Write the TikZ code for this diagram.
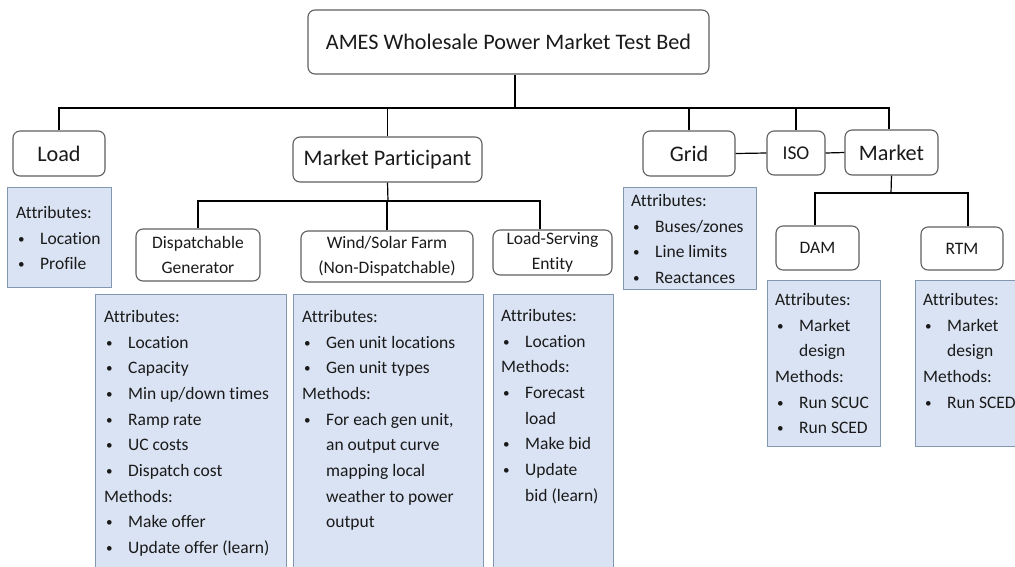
\documentclass[tikz,border=0pt]{standalone}
\usepackage{fontspec}
\setmainfont{Carlito}[Ligatures=NoCommon]
\usepackage{tikz}
\usetikzlibrary{calc}
\definecolor{attrfill}{RGB}{218,227,243}
\definecolor{attrline}{RGB}{132,151,176}
\definecolor{unitline}{RGB}{95,95,95}
\definecolor{ink}{RGB}{26,26,26}
\newcommand{\bitem}{\hspace*{2pt}\makebox[22pt][l]{\raisebox{1pt}{\scalebox{0.75}{\textbullet}}}}
\newcommand{\bcont}{\hspace*{24pt}}

\begin{document}
\begin{tikzpicture}[x=1pt,y=-1pt,
  unit/.style={draw=unitline,line width=1.1pt,rounded corners=7pt,fill=white,text=ink,inner sep=0pt,align=center,font=\fontsize{22.2}{26}\selectfont},
  subunit/.style={unit,font=\fontsize{17.5}{25}\selectfont},
  attrbox/.style={draw=attrline,line width=1.1pt,fill=attrfill,anchor=north west,inner sep=0pt},
  attrtext/.style={anchor=north west,inner sep=0pt,align=left,text=ink,font=\fontsize{17.5}{25.7}\selectfont},
  link/.style={draw=black,line width=1.2pt}]
\useasboundingbox (0,0) rectangle (1015,566);
\clip (0,0) rectangle (1015,566);

\node[unit,minimum width=401pt,minimum height=64pt] (ames) at (508.5,42) {AMES Wholesale Power Market Test Bed};
\node[unit,minimum width=92pt,minimum height=45pt] (load) at (59,153.5) {Load};
\node[unit,minimum width=189pt,minimum height=45pt] (mp) at (387.5,159.5) {Market Participant};
\node[unit,minimum width=92pt,minimum height=45pt] (grid) at (689,153.5) {Grid};
\node[unit,font=\fontsize{19.5}{24}\selectfont,minimum width=58pt,minimum height=44pt] (iso) at (796,153) {ISO};
\node[unit,minimum width=93pt,minimum height=45pt] (market) at (891.5,152.5) {Market};
\node[subunit,minimum width=83pt,minimum height=44pt] (dam) at (817.5,248) {DAM};
\node[subunit,minimum width=82pt,minimum height=43pt] (rtm) at (962,248.5) {RTM};
\node[subunit,minimum width=124pt,minimum height=52pt] (gen) at (198,255) {Dispatchable\\Generator};
\node[subunit,minimum width=172pt,minimum height=51pt] (wind) at (387,256.5) {Wind/Solar Farm\\(Non-Dispatchable)};
\node[subunit,minimum width=119pt,minimum height=45pt] (lse) at (552.5,252.5) {Load-Serving\\Entity};

\coordinate (trunk) at (515,108);
\draw[link] (ames.south -| trunk) -- (trunk);
\draw[link] (load.north) -- (load.north |- trunk) -- ([xshift=-2.5pt]market.north |- trunk) -- ([xshift=-2.5pt]market.north);
\foreach \n in {mp,grid,iso} \draw[link] (\n.north) -- (\n.north |- trunk);
\draw[link] (grid.east) -- (iso.west);
\draw[link] (iso.east) -- (market.west);
\coordinate (mpbus) at (388,201);
\draw[link] (mp.south) -- (mpbus);
\draw[link] (gen.north) |- (mpbus) -| ([xshift=-12.5pt]lse.north);
\draw[link] (wind.north) -- (wind.north |- mpbus);
\coordinate (mkbus) at (891,193);
\draw[link] (market.south) -- (mkbus);
\draw[link] ([xshift=-2.5pt]dam.north) |- (mkbus) -| ([xshift=6pt]rtm.north);

\node[attrbox,minimum width=104pt,minimum height=100pt] (loadattr) at (7,187) {};
\node[attrbox,minimum width=133pt,minimum height=102pt] (gridattr) at (623,187) {};
\node[attrbox,minimum width=191pt,minimum height=290pt] (genattr) at (95,294) {};
\node[attrbox,minimum width=190pt,minimum height=290pt] (windattr) at (293,294) {};
\node[attrbox,minimum width=120pt,minimum height=290pt] (lseattr) at (493,294) {};
\node[attrbox,minimum width=113pt,minimum height=166pt] (damattr) at (767,280) {};
\node[attrbox,minimum width=113pt,minimum height=166pt] (rtmattr) at (915,280) {};

\node[attrtext] (loadlist) at ($(loadattr.north west)+(9,19)$) {Attributes:\\\bitem Location\\\bitem Profile};
\node[attrtext] (gridlist) at ($(gridattr.north west)+(8,7)$) {Attributes:\\\bitem Buses/zones\\\bitem Line limits\\\bitem Reactances};
\node[attrtext] (genlist) at ($(genattr.north west)+(9,16)$) {Attributes:\\\bitem Location\\\bitem Capacity\\\bitem Min up/down times\\\bitem Ramp rate\\\bitem UC costs\\\bitem Dispatch cost\\Methods:\\\bitem Make offer\\\bitem Update offer (learn)};
\node[attrtext] (windlist) at ($(windattr.north west)+(9,16)$) {Attributes:\\\bitem Gen unit locations\\\bitem Gen unit types\\Methods:\\\bitem For each gen unit,\\\bcont an output curve\\\bcont mapping local\\\bcont weather to power\\\bcont output};
\node[attrtext] (lselist) at ($(lseattr.north west)+(8,15)$) {Attributes:\\\bitem Location\\Methods:\\\bitem Forecast\\\bcont load\\\bitem Make bid\\\bitem Update\\\bcont bid (learn)};
\node[attrtext] (damlist) at ($(damattr.north west)+(8,13)$) {Attributes:\\\bitem Market\\\bcont design\\Methods:\\\bitem Run SCUC\\\bitem Run SCED};
\node[attrtext] (rtmlist) at ($(rtmattr.north west)+(8,13)$) {Attributes:\\\bitem Market\\\bcont design\\Methods:\\\bitem Run SCED};
\end{tikzpicture}
\end{document}
